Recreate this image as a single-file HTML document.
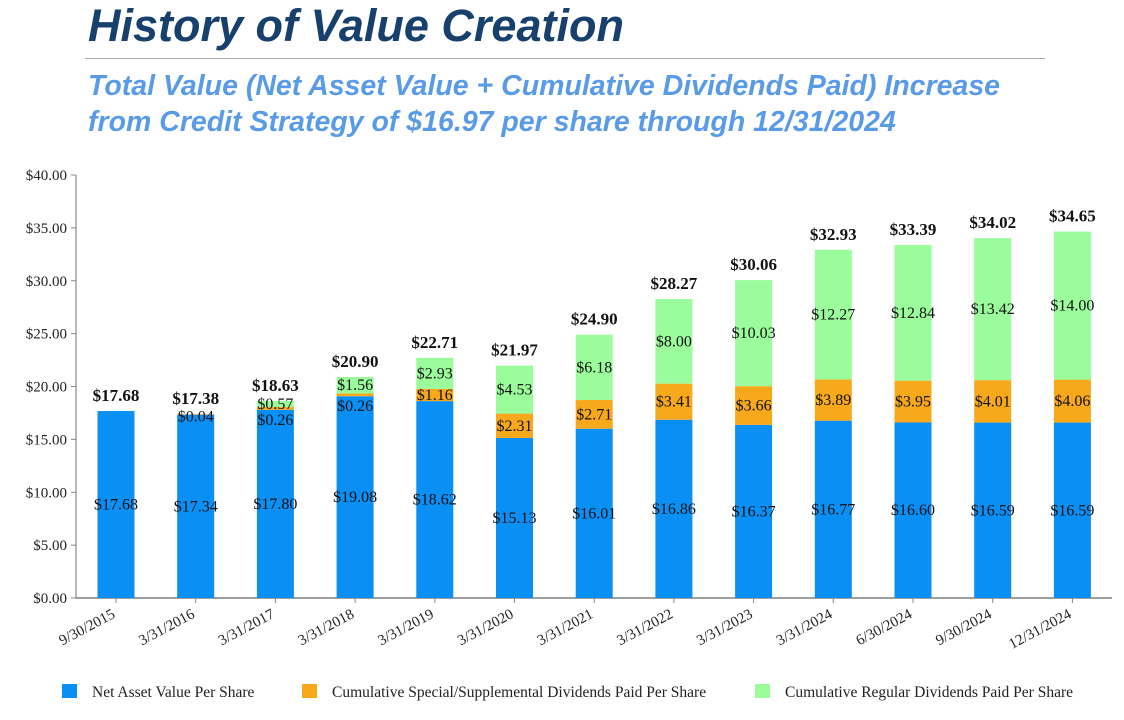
<!DOCTYPE html>
<html><head><meta charset="utf-8"><style>
body{margin:0;background:#fff;width:1124px;height:720px;overflow:hidden;font-family:"Liberation Sans",sans-serif}
#title{position:absolute;left:88px;top:0px;font-size:45px;font-weight:bold;font-style:italic;color:#17406d;margin:0}
#rule{position:absolute;left:85px;top:58px;width:960px;height:1px;background:#aaa}
#sub{position:absolute;left:88px;top:68px;font-size:28.5px;font-weight:bold;font-style:italic;color:#5a9be8;line-height:36px}
svg{position:absolute;left:0;top:0}
</style></head><body>
<div id="title">History of Value Creation</div>
<div id="rule"></div>
<div id="sub">Total Value (Net Asset Value + Cumulative Dividends Paid) Increase<br>from Credit Strategy of $16.97 per share through 12/31/2024</div>
<svg id="chart" width="1124" height="720"></svg>
<script>
const categories=["9/30/2015","3/31/2016","3/31/2017","3/31/2018","3/31/2019","3/31/2020","3/31/2021","3/31/2022","3/31/2023","3/31/2024","6/30/2024","9/30/2024","12/31/2024"];
const navValues=[17.68,17.34,17.80,19.08,18.62,15.13,16.01,16.86,16.37,16.77,16.60,16.59,16.59];
const specialValues=[0,0.04,0.26,0.26,1.16,2.31,2.71,3.41,3.66,3.89,3.95,4.01,4.06];
const regularValues=[0,0,0.57,1.56,2.93,4.53,6.18,8.00,10.03,12.27,12.84,13.42,14.00];
const totalValues=[17.68,17.38,18.63,20.90,22.71,21.97,24.90,28.27,30.06,32.93,33.39,34.02,34.65];
const yTicks=[0,5,10,15,20,25,30,35,40];
const svg=document.getElementById('chart');
const NS='http://www.w3.org/2000/svg';
const y0=598,yTop=175,yMax=40,axisX=76,x0=116,step=79.7,bw=37;
const y=v=>y0-(v/yMax)*(y0-yTop);
const x=i=>x0+i*step;
function mk(t,a){const e=document.createElementNS(NS,t);for(const k in a)e.setAttribute(k,a[k]);svg.appendChild(e);return e;}
function txt(s,a){const e=mk('text',Object.assign({'font-family':'Liberation Serif,serif'},a));e.textContent=s;return e;}
const fmt=v=>'$'+v.toFixed(2);
yTicks.forEach(t=>{
 const l=mk('line',{x1:axisX-5,x2:axisX,y1:y(t),y2:y(t),stroke:'#888'});
 
 const e=txt(fmt(t),{x:axisX-9,y:y(t)+5,'font-size':15,'text-anchor':'end',fill:'#222'});
 
});
const ax=mk('line',{x1:axisX,x2:axisX,y1:yTop,y2:y0,stroke:'#888','stroke-width':1.2});

const bx=mk('line',{x1:axisX,x2:1112,y1:y0,y2:y0,stroke:'#666','stroke-width':1.2});

categories.forEach((c,i)=>{
 const cx=x(i);
 const segs=[[navValues[i],'#0a8ff5','nav'],[specialValues[i],'#f7a81b','special'],[regularValues[i],'#9afc9a','regular']];
 let base=0;
 segs.forEach(([v,col,n],k)=>{
  if(v<=0)return;
  const r=mk('rect',{x:cx-bw/2,y:y(base+v),width:bw,height:y(base)-y(base+v),fill:col});
  
  let ly=(y(base)+y(base+v))/2+5;
  if(k==1&&v<0.5)ly=y(base)+(i==1?7:15);
  const t=txt(fmt(v),{x:cx,y:ly,'font-size':16,'text-anchor':'middle',fill:'#111'});
  
  base+=v;
 });
 const tt=txt(fmt(totalValues[i]),{x:cx,y:y(totalValues[i])-10,'font-size':17,'font-weight':'bold','text-anchor':'middle',fill:'#111'});
 
 const tk=mk('line',{x1:cx,x2:cx,y1:y0,y2:y0+5,stroke:'#888'});
 
 const xl=txt(c,{x:cx,y:y0+19,'font-size':15,'text-anchor':'end',fill:'#222',transform:`rotate(-28 ${cx} ${y0+19})`});
 
});
const legend=[["Net Asset Value Per Share",'#0a8ff5',62],["Cumulative Special/Supplemental Dividends Paid Per Share",'#f7a81b',302],["Cumulative Regular Dividends Paid Per Share",'#9afc9a',755]];
legend.forEach(([s,c,lx])=>{
 const r=mk('rect',{x:lx,y:684,width:15,height:14,fill:c});
 
 const t=txt(s,{x:lx+30,y:697,'font-size':15.5,fill:'#222'});
 
});
</script>
</body></html>
